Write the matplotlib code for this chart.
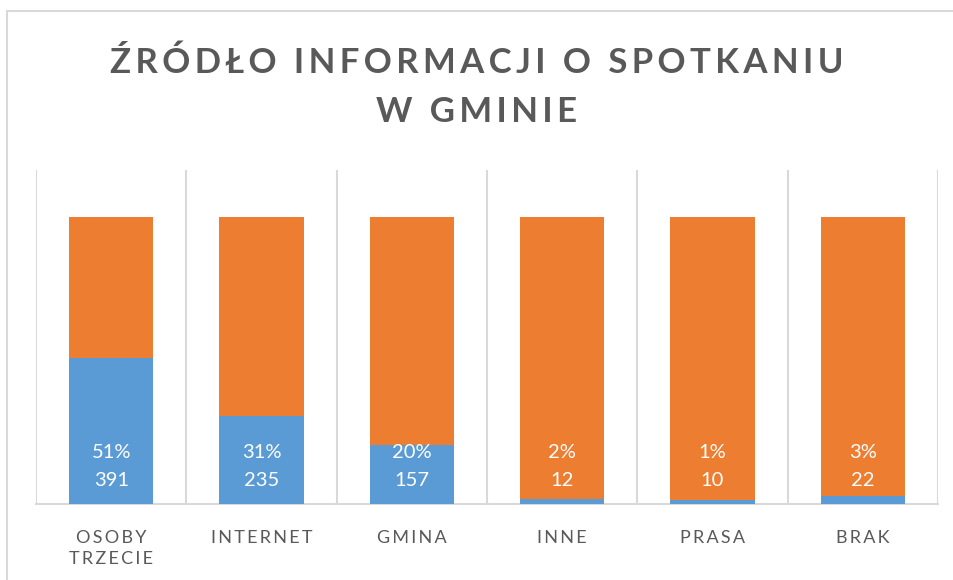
import matplotlib
matplotlib.use("Agg")
import matplotlib.pyplot as plt
from matplotlib.patches import Rectangle
import numpy as np

plt.rcParams['font.family'] = ['Lato', 'DejaVu Sans']

# dane
kategorie = ["OSOBY\nTRZECIE", "INTERNET", "GMINA", "INNE", "PRASA", "BRAK"]
liczba = [391, 235, 157, 12, 10, 22]
procent_tekst = ["51%", "31%", "20%", "2%", "1%", "3%"]
udzial = [0.51, 0.306, 0.205, 0.016, 0.013, 0.029]

BLUE = "#5B9BD5"
ORANGE = "#ED7D31"
GRAY = "#595959"
GRID = "#D9D9D9"


def spaced(s, sep="\u2009"):
    # rozstrzelenie liter jak w Excelu
    return "\n".join(sep.join(list(line)) for line in s.split("\n"))


fig = plt.figure(figsize=(9.54, 5.8), dpi=100)
ax = fig.add_axes([36 / 954, 76 / 580, 902 / 954, 334 / 580])

x = np.arange(len(kategorie))
u = np.array(udzial)
ax.bar(x, u, width=0.56, color=BLUE, zorder=3)
ax.bar(x, 1 - u, bottom=u, width=0.56, color=ORANGE, zorder=3)

for i in range(len(kategorie)):
    ax.text(x[i], 0.18, procent_tekst[i], ha="center", va="center",
            color="white", fontsize=14.5, zorder=4)
    ax.text(x[i], 0.083, str(liczba[i]), ha="center", va="center",
            color="white", fontsize=14.5, zorder=4)

ax.set_xlim(-0.5, len(kategorie) - 0.5)
ax.set_ylim(0, 1.164)
for b in np.arange(-0.5, len(kategorie), 1.0):
    ax.axvline(b, color=GRID, lw=1.5, zorder=1)

for s in ["top", "left", "right"]:
    ax.spines[s].set_visible(False)
ax.spines["bottom"].set_color(GRID)
ax.spines["bottom"].set_linewidth(1.5)
ax.set_yticks([])
ax.set_xticks(x)
ax.set_xticklabels([spaced(k, "\u2009") for k in kategorie], color=GRAY,
                   fontsize=13, linespacing=1.35)
ax.tick_params(axis="x", length=0, pad=19)

fig.text(0.5, 1 - 63 / 580, spaced("ŹRÓDŁO INFORMACJI O SPOTKANIU"),
         ha="center", va="center", fontsize=25, fontweight="bold", color=GRAY)
fig.text(0.5, 1 - 112 / 580, spaced("W GMINIE"),
         ha="center", va="center", fontsize=25, fontweight="bold", color=GRAY)

# ramka wykresu (przycięta z prawej i od dołu)
fig.patches.append(Rectangle((7 / 954, -0.1), 1.1, 1 - 11 / 580 + 0.1,
                             transform=fig.transFigure, fill=False,
                             edgecolor=GRID, lw=1.5))

fig.savefig("out.png", dpi=100)
